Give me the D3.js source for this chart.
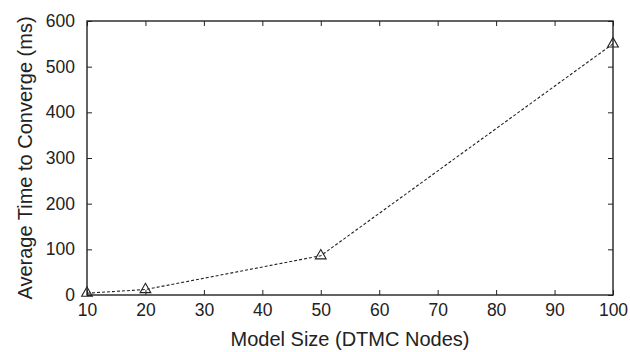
<!DOCTYPE html>
<html>
<head>
<meta charset="utf-8">
<script src="https://cdn.jsdelivr.net/npm/d3@7"></script>
<style>
  body { margin: 0; background: #fff; }
  svg { font-family: "Liberation Sans", Arial, sans-serif; }
</style>
</head>
<body>
<div class="chart"></div>
<script>
// values
const modelSizes = [10, 20, 50, 100];
const avgTimes = [4, 12, 86, 550];
const xTicks = [10, 20, 30, 40, 50, 60, 70, 80, 90, 100];
const yTicks = [0, 100, 200, 300, 400, 500, 600];

const margin = {top: 21, right: 17, bottom: 57, left: 87};
const width = 630 - margin.left - margin.right;
const height = 352 - margin.top - margin.bottom;

const xScale = d3.scaleLinear().domain([10, 100]).range([0, width]);
const yScale = d3.scaleLinear().domain([0, 600]).range([height, 0]);

const svg = d3.select(".chart").append("svg")
  .attr("width", 630)
  .attr("height", 352)
  .append("g")
  .attr("transform", "translate(" + margin.left + "," + margin.top + ")");

// inward ticks on all four sides
function styleAxis(g) {
  g.select(".domain").remove();
  g.selectAll(".tick line").attr("stroke", "#222");
  g.selectAll("text").attr("fill", "#222").style("font-size", "17.5px");
}

svg.append("g")
  .attr("transform", "translate(0," + height + ")")
  .call(d3.axisBottom(xScale).tickValues(xTicks).tickSizeInner(-5).tickSizeOuter(0).tickPadding(9))
  .call(styleAxis);

svg.append("g")
  .call(d3.axisTop(xScale).tickValues(xTicks).tickSizeInner(-5).tickSizeOuter(0).tickFormat(""))
  .call(styleAxis);

svg.append("g")
  .call(d3.axisLeft(yScale).tickValues(yTicks).tickSizeInner(-5).tickSizeOuter(0).tickPadding(12))
  .call(styleAxis);

svg.append("g")
  .attr("transform", "translate(" + width + ",0)")
  .call(d3.axisRight(yScale).tickValues(yTicks).tickSizeInner(-5).tickSizeOuter(0).tickFormat(""))
  .call(styleAxis);

// frame
svg.append("rect")
  .attr("width", width)
  .attr("height", height)
  .attr("fill", "none")
  .attr("stroke", "#222")
  .attr("stroke-width", 1.4);

const dataset = modelSizes.map((d, i) => ({size: d, time: avgTimes[i]}));

const line = d3.line()
  .x(d => xScale(d.size))
  .y(d => yScale(d.time));

svg.append("path")
  .datum(dataset)
  .attr("fill", "none")
  .attr("stroke", "#222")
  .attr("stroke-width", 1.1)
  .attr("stroke-dasharray", "3,2")
  .attr("d", line);

const tri = d3.symbol().type(d3.symbolTriangle).size(50);
svg.selectAll(".dot")
  .data(dataset)
  .enter().append("path")
  .attr("class", "dot")
  .attr("transform", d => "translate(" + xScale(d.size) + "," + yScale(d.time) + ")")
  .attr("d", tri)
  .attr("fill", "none")
  .attr("stroke", "#222")
  .attr("stroke-width", 1.1);

// axis titles
svg.append("text")
  .attr("x", width / 2)
  .attr("y", height + 51)
  .attr("text-anchor", "middle")
  .style("font-size", "20px")
  .attr("fill", "#222")
  .text("Model Size (DTMC Nodes)");

svg.append("text")
  .attr("transform", "translate(" + (-55) + "," + (height / 2) + ") rotate(-90)")
  .attr("text-anchor", "middle")
  .style("font-size", "20px")
  .attr("fill", "#222")
  .text("Average Time to Converge (ms)");
</script>
</body>
</html>
